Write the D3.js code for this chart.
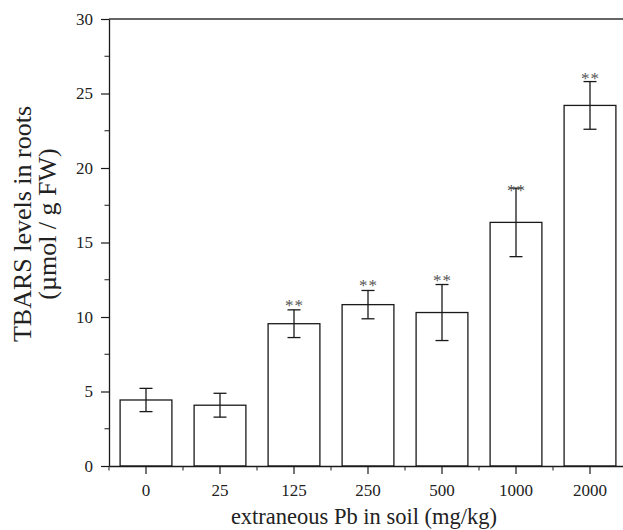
<!DOCTYPE html>
<html>
<head>
<meta charset="utf-8">
<script src="https://cdn.jsdelivr.net/npm/d3@7"></script>
<style>
  body { margin: 0; background: #fff; }
  svg { display: block; font-family: "Liberation Serif", "DejaVu Serif", serif; }
</style>
</head>
<body>
<div id="chart"></div>
<script>
// data
const doses = ["0", "25", "125", "250", "500", "1000", "2000"];
const means = [4.43, 4.08, 9.55, 10.83, 10.3, 16.35, 24.2];
const errors = [0.78, 0.8, 0.93, 0.95, 1.88, 2.3, 1.6];
const marked = [false, false, true, true, true, true, true];
const starLevels = [0, 0, 11.15, 12.45, 12.85, 18.85, 26.4];
const yTicks = [0, 5, 10, 15, 20, 25, 30];

const width = 623, height = 530;
const plotLeft = 109, plotRight = 627, plotTop = 19, plotBottom = 466;

const svg = d3.select("#chart").append("svg")
    .attr("width", width)
    .attr("height", height);

const x = d3.scaleBand()
    .domain(doses)
    .range([plotLeft, plotRight])
    .paddingInner(0.3)
    .paddingOuter(0.15);

const y = d3.scaleLinear()
    .domain([0, 30])
    .range([plotBottom, plotTop]);

const ink = "#1a1a1a";

// bars
svg.append("g").selectAll("rect")
    .data(doses)
    .join("rect")
    .attr("x", d => x(d))
    .attr("y", (d, i) => y(means[i]))
    .attr("width", x.bandwidth())
    .attr("height", (d, i) => y(0) - y(means[i]))
    .attr("fill", "#fff")
    .attr("stroke", ink)
    .attr("stroke-width", 1.3);

// error bars
const cap = 6.5;
const err = svg.append("g").attr("stroke", ink).attr("stroke-width", 1.3);
doses.forEach((d, i) => {
    const cx = x(d) + x.bandwidth() / 2;
    const hi = y(means[i] + errors[i]), lo = y(means[i] - errors[i]);
    err.append("line").attr("x1", cx).attr("x2", cx).attr("y1", hi).attr("y2", lo);
    err.append("line").attr("x1", cx - cap).attr("x2", cx + cap).attr("y1", hi).attr("y2", hi);
    err.append("line").attr("x1", cx - cap).attr("x2", cx + cap).attr("y1", lo).attr("y2", lo);
});

// significance stars
svg.append("g").selectAll("text")
    .data(doses.filter((d, i) => marked[i]))
    .join("text")
    .attr("x", d => x(d) + x.bandwidth() / 2 + 0.5)
    .attr("y", d => y(starLevels[doses.indexOf(d)]) + 11)
    .attr("text-anchor", "middle")
    .attr("font-size", 17)
    .attr("letter-spacing", 1)
    .attr("fill", "#555")
    .text("**");

// top frame line
svg.append("line")
    .attr("x1", plotLeft).attr("x2", width)
    .attr("y1", plotTop).attr("y2", plotTop)
    .attr("stroke", "#333").attr("stroke-width", 1.3);

// y axis
const yAxis = svg.append("g")
    .attr("transform", `translate(${plotLeft},0)`)
    .call(d3.axisLeft(y).tickValues(yTicks).tickSize(8).tickPadding(8).tickSizeOuter(0));
yAxis.append("g").selectAll("line")
    .data(d3.range(2.5, 30, 5))
    .join("line")
    .attr("x1", 0).attr("x2", -4.5)
    .attr("y1", d => y(d)).attr("y2", d => y(d))
    .attr("stroke", ink);

// x axis
const xAxis = svg.append("g")
    .attr("transform", `translate(0,${plotBottom})`)
    .call(d3.axisBottom(x).tickSize(8).tickPadding(10).tickSizeOuter(0));
xAxis.append("g").selectAll("line")
    .data(d3.range(0, doses.length + 1))
    .join("line")
    .attr("x1", k => plotLeft + k * x.step()).attr("x2", k => plotLeft + k * x.step())
    .attr("y1", 0).attr("y2", 4.5)
    .attr("stroke", ink);

[yAxis, xAxis].forEach(a => {
    a.select(".domain").attr("stroke", ink).attr("stroke-width", 1.3);
    a.selectAll(".tick line").attr("stroke", ink).attr("stroke-width", 1.2);
    a.selectAll(".tick text")
        .attr("font-family", "Liberation Serif, serif")
        .attr("font-size", 17)
        .attr("fill", "#222");
});

// axis titles
svg.append("text")
    .attr("x", 364)
    .attr("y", 524)
    .attr("text-anchor", "middle")
    .attr("font-size", 22.5)
    .attr("fill", "#222")
    .text("extraneous Pb in soil (mg/kg)");

const yTitle = svg.append("text")
    .attr("transform", "translate(31,224) rotate(-90)")
    .attr("text-anchor", "middle")
    .attr("font-size", 26)
    .attr("fill", "#222");
yTitle.append("tspan").attr("x", 0).attr("y", 0).text("TBARS levels in roots");
yTitle.append("tspan").attr("x", 0).attr("y", 25).text("(µmol / g FW)");
</script>
</body>
</html>
